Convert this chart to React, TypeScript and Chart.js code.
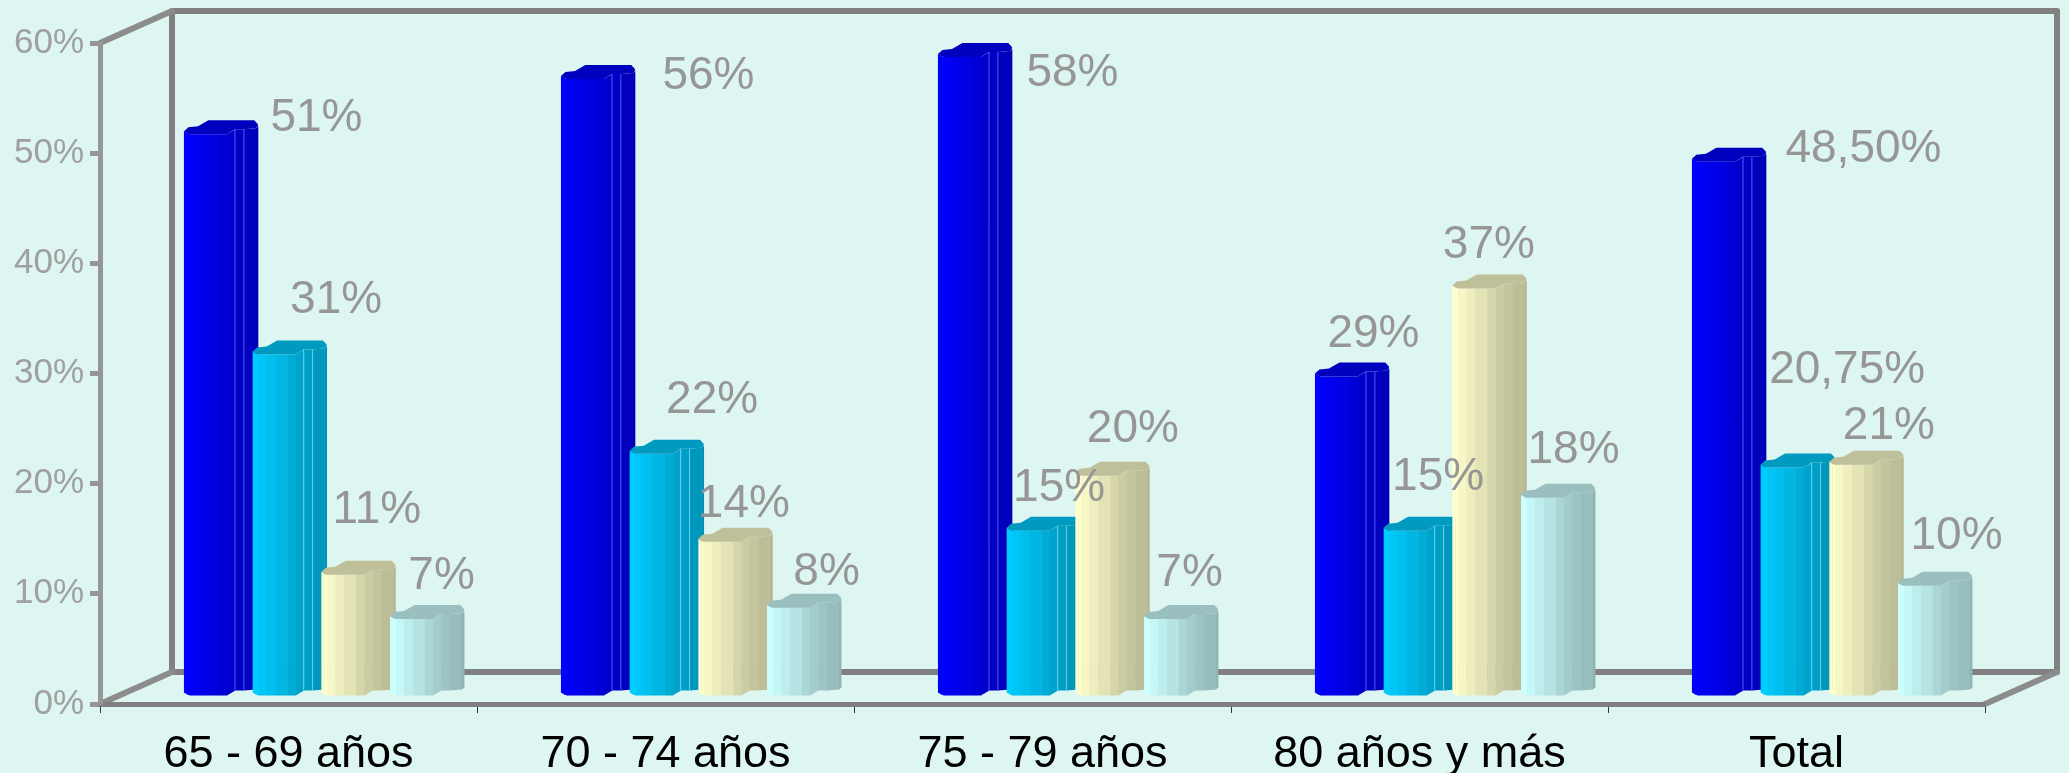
import React, { useEffect, useRef } from "react";
import { Chart, registerables, BarController, BarElement } from "chart.js";

const categories = ["65 - 69 años", "70 - 74 años", "75 - 79 años", "80 años y más", "Total"];
const seriesA = [51, 56, 58, 29, 48.5];
const seriesB = [31, 22, 15, 15, 20.75];
const seriesC = [11, 14, 20, 37, 21];
const seriesD = [7, 8, 7, 18, 10];
const labelsA = ["51%", "56%", "58%", "29%", "48,50%"];
const labelsB = ["31%", "22%", "15%", "15%", "20,75%"];
const labelsC = ["11%", "14%", "20%", "37%", "21%"];
const labelsD = ["7%", "8%", "7%", "18%", "10%"];
const colors = ["#0000FF", "#00CCFF", "#FFFFCC", "#CCFFFF"];

// hand-placed label offsets, relative to the top of each bar
const offsetsA = [[131, -24], [146, -11], [133, 8], [57, -50], [170, -20]];
const offsetsB = [[82, -62], [81, -61], [51, -50], [53, -61], [85, -105]];
const offsetsC = [[54, -73], [44, -45], [56, -54], [35, -51], [58, -46]];
const offsetsD = [[50, -51], [58, -44], [44, -54], [51, -55], [57, -58]];

const BG = "#DEF6F2";
const FONT = "'Liberation Sans', Arial, sans-serif";
const DEPTH_X = 72;
const DEPTH_Y = -32;
const BAR_SHIFT_X = 35.5;
const BAR_SHIFT_Y = -8;

// prism outline: [fraction of width, px offset from the base line]
const FRONT = [
  [0, -3], [0.04, -1], [0.08, 0], [0.19, 0], [0.31, 0], [0.47, 0], [0.58, 0],
  [0.69, -5], [0.81, -5], [0.97, -6], [1, -8],
];
const SHADES = [1, 1, 0.97, 0.93, 0.89, 0.84, 0.8, 0.77, 0.74, 0.71];
const CAP_BACK = [
  [1, -10], [0.95, -14], [0.33, -14], [0.19, -8], [0.06, -7], [0, -3],
];
const CAP_SHADE = 0.75;

function shade(hex: string, f: number) {
  const n = parseInt(hex.slice(1), 16);
  const r = Math.round(((n >> 16) & 255) * f);
  const g = Math.round(((n >> 8) & 255) * f);
  const b = Math.round((n & 255) * f);
  return `rgb(${r},${g},${b})`;
}

class PrismBar extends BarElement {
  static id = "prismBar";
  draw(ctx: CanvasRenderingContext2D) {
    const { x, y, base, width } = (this as any).getProps(["x", "y", "base", "width"], true);
    const color = (this as any).options.backgroundColor as string;
    const left = x - width / 2 + BAR_SHIFT_X;
    const top = y + BAR_SHIFT_Y;
    const bottom = base + BAR_SHIFT_Y;
    const px = (f: number) => left + f * width;
    ctx.save();
    for (let i = 0; i < FRONT.length - 1; i++) {
      const [f0, d0] = FRONT[i];
      const [f1, d1] = FRONT[i + 1];
      ctx.beginPath();
      ctx.moveTo(px(f0), top + d0);
      ctx.lineTo(px(f1) + 0.4, top + d1);
      ctx.lineTo(px(f1) + 0.4, bottom + d1);
      ctx.lineTo(px(f0), bottom + d0);
      ctx.closePath();
      ctx.fillStyle = shade(color, SHADES[i]);
      ctx.fill();
    }
    ctx.beginPath();
    FRONT.forEach(([f, d], i) => {
      if (i === 0) ctx.moveTo(px(f), top + d);
      else ctx.lineTo(px(f), top + d);
    });
    CAP_BACK.forEach(([f, d]) => ctx.lineTo(px(f), top + d));
    ctx.closePath();
    ctx.fillStyle = shade(color, CAP_SHADE);
    ctx.fill();
    // thin highlight on the facet edges of the saturated bars
    if (color === colors[0] || color === colors[1]) {
      ctx.strokeStyle = color === colors[0] ? "rgba(110,110,255,0.8)" : "rgba(150,235,255,0.7)";
      ctx.lineWidth = 1;
      [0.69, 0.81].forEach((f) => {
        ctx.beginPath();
        ctx.moveTo(px(f), top - 5);
        ctx.lineTo(px(f), bottom - 5);
        ctx.stroke();
      });
    }
    ctx.restore();
  }
}

class PrismController extends BarController {
  static id = "prism";
  static defaults = { ...(BarController as any).defaults, dataElementType: "prismBar" };
  static overrides = (BarController as any).overrides;
  // painted front to back by the prismPainter plugin: each bar overlaps the previous one's side
  draw() {}
}

Chart.register(...registerables, PrismBar as any, PrismController as any);

const framePlugin = {
  id: "frame",
  beforeDraw(chart: any) {
    const { ctx, width, height, chartArea: a } = chart;
    ctx.save();
    ctx.fillStyle = BG;
    ctx.fillRect(0, 0, width, height);
    ctx.lineJoin = "round";
    ctx.lineCap = "round";
    ctx.strokeStyle = "#808080";
    ctx.lineWidth = 6;
    const L = a.left + DEPTH_X;
    const R = a.right + DEPTH_X;
    const T = a.top + DEPTH_Y;
    const B = a.bottom + DEPTH_Y;
    ctx.beginPath();
    ctx.rect(L, T, R - L, B - T);
    ctx.stroke();
    ctx.strokeStyle = "#8C8C8C";
    ctx.beginPath();
    ctx.moveTo(a.left, a.top);
    ctx.lineTo(L, T);
    ctx.moveTo(a.left, a.bottom);
    ctx.lineTo(L, B);
    ctx.moveTo(a.right, a.bottom);
    ctx.lineTo(R, B);
    ctx.stroke();
    ctx.restore();
  },
};

const labelSets = [labelsA, labelsB, labelsC, labelsD];
const offsetSets = [offsetsA, offsetsB, offsetsC, offsetsD];

const prismPainter = {
  id: "prismPainter",
  afterDatasetsDraw(chart: any) {
    const { ctx } = chart;
    labelSets.forEach((_, s) => {
      chart.getDatasetMeta(s).data.forEach((el: any) => el.draw(ctx));
    });
    ctx.save();
    ctx.font = `46px ${FONT}`;
    ctx.fillStyle = "#969696";
    ctx.textAlign = "center";
    ctx.textBaseline = "middle";
    labelSets.forEach((labels, s) => {
      chart.getDatasetMeta(s).data.forEach((el: any, g: number) => {
        ctx.fillText(labels[g], el.x + offsetSets[s][g][0], el.y + offsetSets[s][g][1]);
      });
    });
    ctx.restore();
  },
};

export default function App() {
  const ref = useRef<HTMLCanvasElement>(null);
  useEffect(() => {
    document.body.style.background = BG;
    const chart = new Chart(ref.current!, {
      type: "prism" as any,
      data: {
        labels: categories,
        datasets: [seriesA, seriesB, seriesC, seriesD].map((data, i) => ({
          label: `Serie ${i + 1}`,
          data,
          backgroundColor: colors[i],
          categoryPercentage: 0.729,
          barPercentage: 1.077,
          clip: false,
        })) as any,
      },
      options: {
        animation: false,
        responsive: false,
        layout: { padding: { left: 0, top: 43, right: 84, bottom: 0 } },
        plugins: { legend: { display: false }, tooltip: { enabled: false } },
        scales: {
          x: {
            type: "category",
            afterFit: (s: any) => { s.height = 69; },
            grid: { drawOnChartArea: false, offset: true, tickColor: "#333333", tickWidth: 1, tickLength: 9 },
            border: { color: "#808080", width: 5 },
            ticks: { color: "#000000", font: { family: FONT, size: 45 }, padding: 15, maxRotation: 0, autoSkip: false },
          },
          y: {
            type: "linear",
            min: 0,
            max: 60,
            afterFit: (s: any) => { s.width = 100; },
            grid: { drawOnChartArea: false, tickColor: "#969696", tickWidth: 5, tickLength: 10 },
            border: { color: "#969696", width: 5 },
            ticks: {
              stepSize: 10,
              color: "#A0A0A0",
              font: { family: FONT, size: 35 },
              padding: 6,
              callback: (v: any) => `${v}%`,
            },
          },
        },
      } as any,
      plugins: [framePlugin, prismPainter],
    });
    return () => chart.destroy();
  }, []);
  return (
    <canvas
      ref={ref}
      width={2069}
      height={773}
      style={{ position: "absolute", left: 0, top: 0, display: "block" }}
    />
  );
}
